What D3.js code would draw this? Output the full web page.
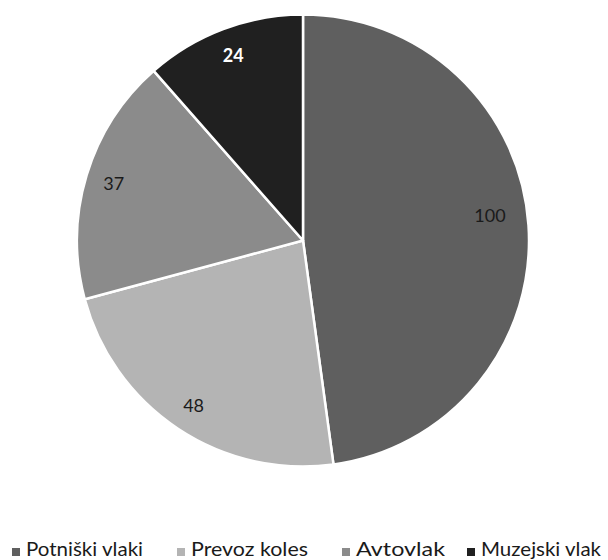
<!DOCTYPE html>
<html>
<head>
<meta charset="utf-8">
<script src="https://cdn.jsdelivr.net/npm/d3@7"></script>
<style>
  html, body { margin: 0; padding: 0; background: #fff; }
  svg { display: block; }
</style>
</head>
<body>
<svg id="chart" width="608" height="560"></svg>
<script>
// Train categories and their counts
const categories = ["Potniški vlaki", "Prevoz koles", "Avtovlak", "Muzejski vlak"];
const values = [100, 48, 37, 24];
const colors = ["#5f5f5f", "#b4b4b4", "#8b8b8b", "#202020"];
const labelColors = ["#1a1a1a", "#1a1a1a", "#1a1a1a", "#ffffff"];
const labelWeights = ["normal", "normal", "normal", "bold"];

const svg = d3.select("#chart");
const cx = 303, cy = 240.5, r = 226;
const font = "Lato, 'Open Sans', sans-serif";

const data = categories.map((c, i) => ({ name: c, value: values[i], i }));
const pie = d3.pie().value(d => d.value).sort(null);
const arcs = pie(data);

const arc = d3.arc().innerRadius(0).outerRadius(r);
const labelArc = d3.arc().innerRadius(r * 0.87).outerRadius(r * 0.87);

const g = svg.append("g").attr("transform", `translate(${cx},${cy})`);

g.selectAll("path.slice")
  .data(arcs)
  .join("path")
  .attr("class", "slice")
  .attr("d", arc)
  .attr("fill", d => colors[d.data.i])
  .attr("stroke", "#fff")
  .attr("stroke-width", 2.5)
  .attr("stroke-linejoin", "round");

// Value labels; the wide first slice gets its label pulled slightly toward the top
g.selectAll("text.val")
  .data(arcs)
  .join("text")
  .attr("class", "val")
  .attr("transform", d => {
    const span = d.endAngle - d.startAngle;
    const a = (d.startAngle + d.endAngle) / 2 - (span > Math.PI * 0.9 ? 0.07 : 0);
    const rr = span > Math.PI * 0.9 ? r * 0.835 : r * 0.875;
    return `translate(${rr * Math.sin(a)},${-rr * Math.cos(a)})`;
  })
  .attr("text-anchor", "middle")
  .attr("dominant-baseline", "central")
  .attr("font-family", font)
  .attr("font-size", 18)
  .attr("font-weight", d => labelWeights[d.data.i])
  .attr("fill", d => labelColors[d.data.i])
  .text(d => d.data.value);

// Legend along the bottom
const legendX = [12, 177, 342, 467];
const legendW = [117, 117, 89, 120];
const legend = svg.append("g");
const items = legend.selectAll("g.item")
  .data(data)
  .join("g")
  .attr("class", "item")
  .attr("transform", d => `translate(${legendX[d.i]},552)`);

items.append("rect")
  .attr("x", 0).attr("y", -4)
  .attr("width", 8).attr("height", 8)
  .attr("fill", d => colors[d.i]);

items.append("text")
  .attr("x", 14)
  .attr("y", 4)
  .attr("font-family", font)
  .attr("font-size", 19)
  .attr("fill", "#1a1a1a")
  .attr("textLength", d => legendW[d.i])
  .attr("lengthAdjust", "spacingAndGlyphs")
  .text(d => d.name);
</script>
</body>
</html>
